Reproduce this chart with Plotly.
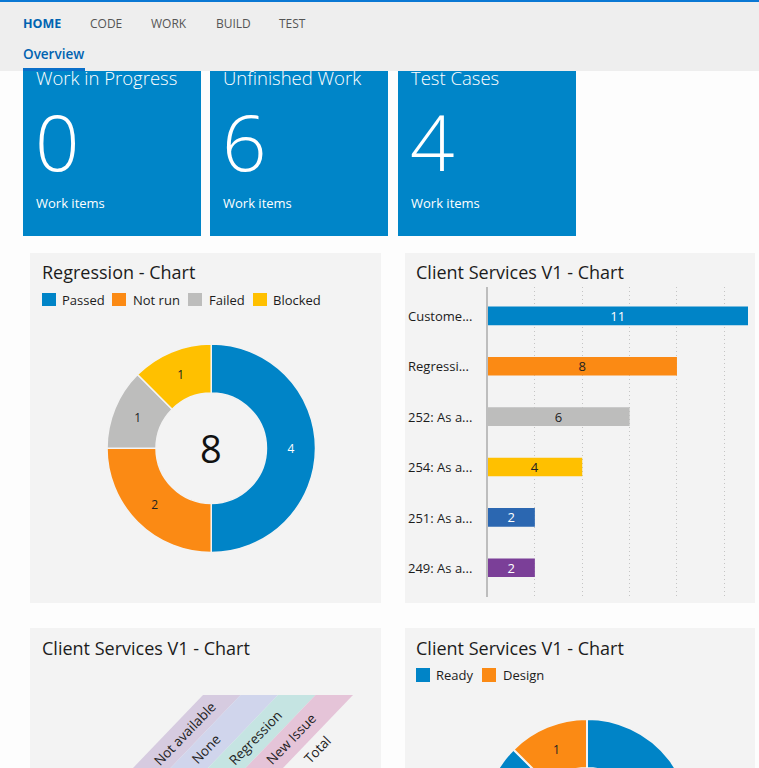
import plotly.graph_objects as go

W, H = 759, 930
FONT = "Open Sans"

BLUE, ORANGE, GREY, YELLOW, NAVY, PURPLE = "#0084c7", "#fb8a14", "#bdbdbc", "#ffc000", "#2b67b1", "#7b3f98"
TILE = "#0085c8"
PANEL = "#f3f3f3"

nav_items = ["HOME", "CODE", "WORK", "BUILD", "TEST"]
tile_titles = ["Work in Progress", "Unfinished Work", "Test Cases"]
tile_values = [0, 6, 4]
tile_caption = "Work items"

reg_labels = ["Passed", "Not run", "Failed", "Blocked"]
reg_values = [4, 2, 1, 1]
reg_total = 8

bar_labels = ["Custome...", "Regressi...", "252: As a...", "254: As a...", "251: As a...", "249: As a..."]
bar_values = [11, 8, 6, 4, 2, 2]

band_labels = ["Not available", "None", "Regression", "New Issue", "Total"]
ready_labels = ["Ready", "Design"]
ready_values = [7, 1]
ready_shown = ["", "1"]

panel_title_1 = "Regression - Chart"
panel_title_2 = "Client Services V1 - Chart"


def X(p):
    return p / W


def Y(p):
    return 1 - p / H


fig = go.Figure()
shapes, notes = [], []


def rect(x0, y0, x1, y1, color):
    shapes.append(dict(type="rect", xref="paper", yref="paper", x0=X(x0), x1=X(x1), y0=Y(y0), y1=Y(y1),
                       fillcolor=color, line_width=0, layer="below"))


def text(x, y, s, size, color="#1c1c1c", anchor="left", angle=0, weight=None):
    f = dict(family=FONT, size=size, color=color)
    if weight:
        f["weight"] = weight
    notes.append(dict(xref="paper", yref="paper", x=X(x), y=Y(y), text=s, showarrow=False, xanchor=anchor,
                      yanchor="middle", font=f, textangle=angle, borderpad=0, borderwidth=0))


# page chrome
rect(0, 71, 759, 930, "#fdfdfd")
rect(0, 2, 759, 71, "#eeeeee")
rect(0, 0, 759, 2, "#0a78d4")
rect(23, 68, 85, 71, "#0a6fc9")
for s, x in zip(nav_items, [23, 90, 151, 216, 279]):
    text(x, 24, s, 12.5 if s == "HOME" else 12, "#0063b1" if s == "HOME" else "#555555",
         weight=700 if s == "HOME" else None)
text(23, 54, "Overview", 13.5, "#0063b1", weight=600)

# tiles
for x0, x1, t, v in zip([23, 210, 398], [201, 388, 576], tile_titles, tile_values):
    rect(x0, 71, x1, 236, TILE)
    text(x0 + 13, 78, t, 18.5, "white", weight=300)
    text(x0 + 34.5, 141, str(v), 78, "white", anchor="center", weight=300)
    text(x0 + 13, 203.5, tile_caption, 13, "white")

# panels
for x0, y0, x1, y1 in [(30, 253, 381, 603), (405, 253, 755, 603), (30, 628, 381, 930), (405, 628, 755, 930)]:
    rect(x0, y0, x1, y1, PANEL)
text(42, 272.5, panel_title_1, 18)
text(416, 272.5, panel_title_2, 18)
text(42, 647.5, panel_title_2, 18)
text(416, 647.5, panel_title_2, 18)

# regression donut
fig.add_trace(go.Pie(
    labels=reg_labels, values=reg_values, hole=0.53, sort=False, direction="clockwise", rotation=0,
    domain=dict(x=[X(107), X(315.5)], y=[Y(552.5), Y(344)]),
    marker=dict(colors=[BLUE, ORANGE, GREY, YELLOW], line=dict(color="#f3f3f3", width=1.5)),
    textinfo="value", textposition="inside", insidetextorientation="horizontal",
    insidetextfont=dict(family=FONT, size=12, color=["white", "#222222", "#222222", "#222222"]),
    showlegend=False,
))
text(211, 448.5, str(reg_total), 38, "#111111", anchor="center")
for lab, c, bx, tx in zip(reg_labels, [BLUE, ORANGE, GREY, YELLOW], [42, 112, 188, 253], [62, 133, 209, 273]):
    rect(bx, 293, bx + 14, 306, c)
    text(tx, 299.5, lab, 13)

# horizontal bars
fig.add_trace(go.Bar(
    orientation="h", y=list(range(len(bar_values))), x=bar_values, width=0.37,
    marker=dict(color=[BLUE, ORANGE, GREY, YELLOW, NAVY, PURPLE], line_width=0),
    text=[str(v) for v in bar_values], textposition="inside", insidetextanchor="middle", textangle=0,
    constraintext="none",
    textfont=dict(family=FONT, size=13, color=["white", "#222222", "#222222", "#222222", "white", "white"]),
    xaxis="x", yaxis="y", showlegend=False, cliponaxis=False,
))
row_px = [316, 367, 417.5, 467.5, 518, 568]
for lab, y in zip(bar_labels, row_px):
    text(408, y - 0.5, lab, 13)

# bottom-left diagonal headers
band_colors = ["#d6cbe0", "#d0d5ec", "#c5e4e2", "#e5c4d8"]
band_top, band_bottom, band_x0, band_w, band_skew = 695, 768, 203, 37.5, 70
for i, c in enumerate(band_colors):
    a = band_x0 + i * band_w
    b = a + band_w
    path = (f"M {X(a)} {Y(band_top)} L {X(b)} {Y(band_top)} "
            f"L {X(b - band_skew)} {Y(band_bottom)} L {X(a - band_skew)} {Y(band_bottom)} Z")
    shapes.append(dict(type="path", xref="paper", yref="paper", path=path, fillcolor=c, line_width=0, layer="below"))
for lab, x, y in zip(band_labels, [184.5, 206, 255, 291, 317], [734, 749, 738, 739, 750]):
    text(x, y, lab, 13.5, "#222222", anchor="center", angle=-46)

# bottom-right donut, running past the window edge
fig.add_trace(go.Pie(
    labels=ready_labels, values=ready_values, hole=0.53, sort=False, direction="clockwise", rotation=0,
    domain=dict(x=[X(483), X(691)], y=[Y(927), Y(719)]),
    marker=dict(colors=[BLUE, ORANGE], line=dict(color="#f3f3f3", width=2)),
    text=ready_shown, textinfo="text", textposition="inside", insidetextorientation="horizontal",
    insidetextfont=dict(family=FONT, size=12, color=["white", "#222222"]),
    showlegend=False,
))
for lab, c, bx, tx in zip(ready_labels, [BLUE, ORANGE], [416, 482], [436, 503]):
    rect(bx, 668, bx + 14, 682, c)
    text(tx, 674.5, lab, 13)

fig.update_layout(
    width=W, height=H, margin=dict(l=0, r=0, t=0, b=0, pad=0), autosize=False,
    paper_bgcolor="#fdfdfd", plot_bgcolor="rgba(0,0,0,0)", showlegend=False,
    shapes=shapes, annotations=notes,
    xaxis=dict(domain=[X(487.5), X(748)], range=[0, 11], dtick=2, showgrid=True, griddash="1px,3px",
               gridcolor="#c4c4c4", gridwidth=1, zeroline=False, showticklabels=False, ticks="", showline=False),
    yaxis=dict(domain=[Y(596.5), Y(287.2)], range=[5.57, -0.57], showticklabels=False, ticks="", showgrid=False,
               zeroline=False, showline=True, linecolor="#bdbdbd", linewidth=1.5),
)
fig.write_html("out.html", config={"displayModeBar": False},
               post_script="document.body.style.margin='0';document.body.style.overflow='hidden';"
                           "document.documentElement.style.overflow='hidden';")
